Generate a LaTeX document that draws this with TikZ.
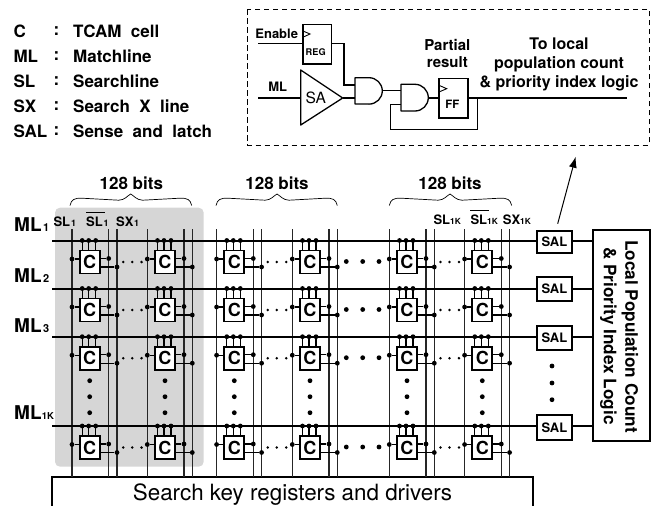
\documentclass[tikz,border=0pt]{standalone}
\usepackage{fontspec}
\setmainfont{TeX Gyre Heros}
\usetikzlibrary{arrows.meta,calc}
\tikzset{
  lab/.style={inner sep=0pt,font=\bfseries\fontsize{#1}{#1}\selectfont},
  labl/.style={inner sep=0pt,anchor=base west,font=\bfseries\fontsize{#1}{#1}\selectfont},
  vline/.style={line width=1.1pt,black!85},
  mline/.style={line width=2pt},
  wire/.style={line width=1.1pt},
  cellbox/.style={draw,line width=1.9pt,fill=white,minimum width=20pt,minimum height=23pt,inner sep=0pt,anchor=north west,font=\bfseries\fontsize{18}{18}\selectfont},
  salbox/.style={draw,line width=1.9pt,fill=white,inner sep=0pt,anchor=north west,font=\bfseries\fontsize{13}{13}\selectfont},
  blk/.style={draw,line width=1.4pt,fill=white,inner sep=0pt,anchor=north west},
  gate/.style={draw,line width=1.3pt,fill=white,line join=round},
  sdot/.style={circle,fill=black,inner sep=0pt,minimum size=#1},
  sdot/.default=4.8pt,
  brace/.style={line width=0.7pt,rounded corners=0pt}
}
\newcommand{\bracepath}[3]{% left, tip, right
  \draw[brace] (#1,205.5) .. controls (#1+1.5,199.5) and (#1+4,198) .. (#1+12,198.2)
    -- (#2-12,200.2) .. controls (#2-6,200.2) and (#2-3,195.5) .. (#2,194)
    .. controls (#2+3,195.5) and (#2+6,200.2) .. (#2+12,200.2)
    -- (#3-12,198.2) .. controls (#3-4,198) and (#3-1.5,199.5) .. (#3,205.5);}
\begin{document}
\begin{tikzpicture}[x=1pt,y=-1pt]
\useasboundingbox (0,0) rectangle (664,506);
% legend
\foreach \a/\b/\yy in {C/TCAM\ \ cell/31,ML/Matchline/56,SL/Searchline/81,SX/Search\ \ X\ \ line/106,SAL/Sense\ \ and\ \ latch/131}{
  \node[lab=17,anchor=west] (lega\yy) at (13.3,\yy) {\a};
  \node[lab=17,anchor=center] (legc\yy) at (56.5,\yy) {:};
  \node[lab=17,anchor=west] (legb\yy) at (73,\yy) {\b};
}
% inset
\draw[line width=1pt,dash pattern=on 5.5pt off 3.5pt] (247.3,9.3) rectangle (649,145);
\node[lab=13] (en) at (276.7,33.5) {Enable};
\node[lab=13] (mltxt) at (277.7,86.7) {ML};
\coordinate (enin) at (258.3,43.3);
\coordinate (mlin) at (258.3,98);
\node[blk,minimum width=28.4pt,minimum height=39.3pt] (reg) at (302.3,24) {};
\node[lab=9.2] (regt) at (315.7,51.7) {REG};
\draw[line width=0.9pt] (302.3,30.7) -- (310,34) -- (302.3,37.5);
\node[blk,minimum width=29pt,minimum height=39.3pt] (ff) at (438.3,78) {};
\node[lab=11.5] (fft) at (452.3,104.7) {FF};
\draw[line width=0.9pt] (438.3,85) -- (446.7,88.7) -- (438.3,92.3);
\draw[wire,line width=1.3pt] (enin) -- (reg.west |- enin);
\draw[gate] (300.7,70) -- (300.7,125) -- (342.7,98) -- cycle;
\node[inner sep=0pt,font=\fontsize{15.5}{15.5}\selectfont] (sa) at (315.7,98.3) {SA};
\coordinate (saout) at (342.7,98);
\coordinate (sain) at (300.7,98);
\draw[wire,line width=1.3pt] (mlin) -- (sain);
% AND gates
\draw[gate] (355,77.7) -- (369,77.7) arc[start angle=-90,end angle=90,x radius=13.3pt,y radius=-13.2pt] -- (355,104) -- cycle;
\draw[gate] (401,84.3) -- (415,84.3) arc[start angle=-90,end angle=90,x radius=13.3pt,y radius=-13.35pt] -- (401,111) -- cycle;
\coordinate (a1a) at (355,85); \coordinate (a1b) at (355,98); \coordinate (a1o) at (382.3,90.7);
\coordinate (a2a) at (401,90.7); \coordinate (a2b) at (401,104.7); \coordinate (a2o) at (428.3,98);
\coordinate (ffin) at (438.3,98); \coordinate (ffout) at (467.3,98); \coordinate (toend) at (626.7,98);
\draw[wire,line width=1.3pt] (reg.east |- enin) -| (344,85) -- (a1a);
\draw[wire,line width=1.3pt] (saout) -- (a1b);
\draw[wire,line width=1.3pt] (a1o) -- (a2a);
\draw[wire,line width=1.3pt] (a2o) -- (ffin);
\draw[wire,line width=1.3pt] (ffout) -- (toend);
\draw[wire,line width=1.3pt] (477.3,98) |- (390.3,129.3) |- (a2b);
\node[lab=15] (pa) at (447.3,45) {Partial};
\node[lab=15] (re) at (447.3,62.3) {result};
\node[lab=16] (t1) at (559,43.7) {To local};
\node[lab=16] (t2) at (559,64) {population count};
\node[lab=16] (t3) at (559,83.3) {\& priority index logic};
% gray block
\fill[gray!32,rounded corners=5pt] (55,207.7) rectangle (203.7,466.7);
% braces and headings
\bracepath{70}{130.7}{191.7}
\bracepath{216}{277}{337.3}
\bracepath{389.3}{450}{511.7}
\foreach \xx in {131.3,277,450}{\node[lab=17] at (\xx,183) {128 bits};}
% search block
\coordinate (regl) at (51.7,477.3);
\draw[line width=1.7pt] (51.7,510) -- (regl) -- (532.7,477.3) -- (532.7,510);
\node[inner sep=0pt,font=\fontsize{22.4}{22.4}\selectfont] (keyt) at (292.5,495) {Search key registers and drivers};
% verticals
\foreach \c in {78.7,154,223.3,299,396,471.3}{
  \draw[vline] (\c-6.7,229) -- (\c-6.7,476.5);
  \draw[vline] (\c+30,229) -- (\c+30,476.5);
  \draw[vline] (\c+38.3,229) -- (\c+38.3,476.5);
}
% SAL + logic
\node[blk,line width=1.9pt,minimum width=57.5pt,minimum height=210.5pt] (logic) at (591.7,229.3) {};
\node[lab=17.2,rotate=-90] (lg1) at (630,336.5) {Local Population Count};
\node[lab=17.2,rotate=-90] (lg2) at (608.3,336) {\& Priority Index Logic};
\foreach \n/\yy/\ml/\hh in {1/230.3/240.5/22,2/276.3/288.5/24,3/325/336.7/24,4/414.3/426/24.4}{
  \node[salbox,minimum width=35.5pt,minimum height=\hh pt] (sal\n) at (535.7,\yy) {SAL};
  \coordinate (mls\n) at (52,\ml);
  \draw[mline] (mls\n) -- (sal\n.west |- mls\n);
  \draw[mline] (sal\n.east |- mls\n) -- (logic.west |- mls\n);
}
\foreach \yy in {366,383,399.7}{\node[sdot] at (552,\yy) {};}
% cells
\foreach \ml in {240.5,288.5,336.7,426}{
  \foreach[count=\i] \c in {78.7,154,223.3,299,396,471.3}{
    \node[cellbox] (cell) at (\c,\ml+9) {C};
    \foreach \d in {3.5,10,17}{
      \draw[wire] (\c+\d,\ml) -- (\c+\d,\ml+9);
      \node[sdot] at (\c+\d,\ml) {};
    }
    \node[sdot] (sl) at (\c-6.7,\ml+18.5) {};
    \draw[wire] (sl) -- (cell.west |- sl);
    \node[sdot] (slb) at (\c+30,\ml+18) {};
    \draw[wire] (cell.east |- slb) -- (slb);
    \node[sdot] (sx) at (\c+38.3,\ml+26.5) {};
    \draw[wire] (cell.east |- sx) -- (sx);
  }
  % dotted links inside each block
  \foreach \c in {78.7,223.3,396}{
    \foreach \d in {44.5,53.5,62.9}{\node[sdot=2.8pt] at (\c+\d,\ml+21.5) {};}
  }
  \foreach \xx in {346.3,362.7,379}{\node[sdot] at (\xx,\ml+21) {};}
}
\foreach \c in {78.7,154,223.3,299,396,471.3}{
  \foreach \yy in {380.7,396.7,412.7}{\node[sdot] at (\c+11,\yy) {};}
}
% labels
\newcommand{\mllab}[3]{\node[labl=19] at (14,#1) {ML};\node[labl=#3] at (43,#1) {#2};}
\mllab{231.7}{1}{11}
\mllab{282.3}{2}{11}
\mllab{332.7}{3}{11}
\node[labl=19] at (14,419.3) {ML};\node[labl=9.5] at (41.7,419.3) {1K};
\node[labl=13] at (53.3,226.7) {SL};\node[labl=9] at (71,226.7) {1};
\node[labl=13] at (86,226.7) {SL};\node[labl=9] at (103.5,226.7) {1};
\draw[line width=1pt] (86,212.3) -- (105,212.3);
\node[labl=13] at (116,226.7) {SX};\node[labl=9] at (134,226.7) {1};
\node[labl=13] at (433.3,224.3) {SL};\node[labl=8.4] at (450,224.3) {1K};
\node[labl=13] at (470.3,224.3) {SL};\node[labl=8.4] at (487,224.3) {1K};
\draw[line width=1pt] (470.3,210.7) -- (489,210.7);
\node[labl=13] at (502.7,224.3) {SX};\node[labl=8.4] at (520,224.3) {1K};
% arrow
\coordinate (arra) at (557.7,223.7);
\coordinate (arrb) at (575.7,156.7);
\draw[line width=1pt,-{Latex[length=11pt,width=8pt]}] (arra) -- (arrb);
\end{tikzpicture}
\end{document}
